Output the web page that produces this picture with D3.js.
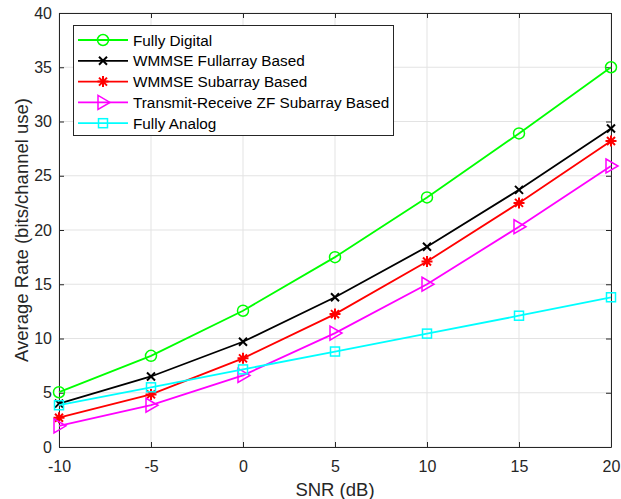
<!DOCTYPE html>
<html>
<head>
  <meta charset="utf-8">
  <title>rate-vs-snr</title>
  <style>
    * { margin: 0; padding: 0; }
    body { background: #fff; }
    svg { font-family: "Liberation Sans", Arial, sans-serif; }
  </style>
</head>
<body>
  <svg id="svg"></svg>
  <script src="https://cdnjs.cloudflare.com/ajax/libs/d3/7.8.5/d3.min.js"></script>
  <script>
    const snr = [-10, -5, 0, 5, 10, 15, 20];
    const fullyDigital = [5.05, 8.4, 12.56, 17.5, 23.0, 28.9, 35.0];
    const wmmseFull = [4.0, 6.5, 9.7, 13.8, 18.45, 23.7, 29.35];
    const wmmseSub = [2.7, 4.85, 8.17, 12.25, 17.1, 22.5, 28.2];
    const zfSub = [1.95, 3.85, 6.6, 10.5, 15.0, 20.3, 25.9];
    const fullyAnalog = [3.85, 5.5, 7.15, 8.8, 10.45, 12.1, 13.8];
    const seriesNames = ['Fully Digital', 'WMMSE Fullarray Based', 'WMMSE Subarray Based', 'Transmit-Receive ZF Subarray Based', 'Fully Analog'];
    const xTicks = [-10, -5, 0, 5, 10, 15, 20];
    const yTicks = [0, 5, 10, 15, 20, 25, 30, 35, 40];

    const W = 621, H = 499;
    const m = { left: 59, right: 10, top: 13, bottom: 52 };
    const txt = '#262626';

    const series = [
      { name: seriesNames[0], values: fullyDigital, color: '#00ff00', marker: 'circle' },
      { name: seriesNames[1], values: wmmseFull, color: '#000000', marker: 'x' },
      { name: seriesNames[2], values: wmmseSub, color: '#ff0000', marker: 'star' },
      { name: seriesNames[3], values: zfSub, color: '#ff00ff', marker: 'tri' },
      { name: seriesNames[4], values: fullyAnalog, color: '#00ffff', marker: 'square' }
    ];

    const svg = d3.select('#svg').attr('width', W).attr('height', H);
    const x = d3.scaleLinear().domain([-10, 20]).range([m.left, W - m.right]);
    const y = d3.scaleLinear().domain([0, 40]).range([H - m.bottom, m.top]);

    // grid
    const grid = svg.append('g').attr('stroke', '#e3e3e3').attr('stroke-width', 1);
    grid.selectAll('.gx').data(xTicks).enter().append('line')
      .attr('x1', d => x(d)).attr('x2', d => x(d)).attr('y1', y(0)).attr('y2', y(40));
    grid.selectAll('.gy').data(yTicks).enter().append('line')
      .attr('x1', x(-10)).attr('x2', x(20)).attr('y1', d => y(d)).attr('y2', d => y(d));

    // axes (MATLAB style, ticks inward on all sides)
    const fmt = d => String(d);
    const xAxis = d3.axisBottom(x).tickValues(xTicks).tickFormat(fmt).tickSizeInner(-5).tickSizeOuter(0).tickPadding(14);
    const yAxis = d3.axisLeft(y).tickValues(yTicks).tickFormat(fmt).tickSizeInner(-5).tickSizeOuter(0).tickPadding(7);
    const gx = svg.append('g').attr('transform', `translate(0,${y(0)})`).call(xAxis);
    const gy = svg.append('g').attr('transform', `translate(${x(-10)},0)`).call(yAxis);
    const gxt = svg.append('g').attr('transform', `translate(0,${y(40)})`)
      .call(d3.axisTop(x).tickValues(xTicks).tickSizeInner(-5).tickSizeOuter(0).tickFormat(''));
    const gyr = svg.append('g').attr('transform', `translate(${x(20)},0)`)
      .call(d3.axisRight(y).tickValues(yTicks).tickSizeInner(-5).tickSizeOuter(0).tickFormat(''));
    [gx, gy, gxt, gyr].forEach(g => {
      g.select('.domain').attr('stroke', txt).attr('stroke-width', 1);
      g.selectAll('.tick line').attr('stroke', txt);
      g.selectAll('text').attr('fill', txt).style('font-size', '16px')
        .style('font-family', '"Liberation Sans", Arial, sans-serif');
    });

    svg.append('text').attr('x', x(5)).attr('y', 496).attr('text-anchor', 'middle')
      .attr('fill', txt).style('font-size', '18.5px').text('SNR (dB)');
    svg.append('text').attr('transform', `translate(28,${y(20)}) rotate(-90)`).attr('text-anchor', 'middle')
      .attr('fill', txt).style('font-size', '18.5px').text('Average Rate (bits/channel use)');

    function drawMarker(g, type, color) {
      const s = 5.5;
      if (type === 'circle') g.append('circle').attr('r', s).attr('fill', 'none').attr('stroke', color).attr('stroke-width', 1.5);
      if (type === 'square') g.append('rect').attr('x', -4.5).attr('y', -4.5).attr('width', 9).attr('height', 9).attr('fill', 'none').attr('stroke', color).attr('stroke-width', 1.5);
      if (type === 'tri') g.append('path').attr('d', `M-5,-7L7,0L-5,7Z`).attr('fill', 'none').attr('stroke', color).attr('stroke-width', 1.5);
      if (type === 'x') g.append('path').attr('d', 'M-4,-4L4,4M-4,4L4,-4').attr('stroke', color).attr('stroke-width', 2);
      if (type === 'star') g.append('path').attr('d', 'M-4,-4L4,4M-4,4L4,-4M0,-5.5V5.5M-5.5,0H5.5').attr('stroke', color).attr('stroke-width', 2);
    }

    const line = d3.line().x((d, i) => x(snr[i])).y(d => y(d));
    series.forEach(s => {
      svg.append('path').datum(s.values).attr('d', line).attr('fill', 'none')
        .attr('stroke', s.color).attr('stroke-width', 1.8);
      s.values.forEach((v, i) => {
        drawMarker(svg.append('g').attr('transform', `translate(${x(snr[i])},${y(v)})`), s.marker, s.color);
      });
    });

    // legend
    const lg = svg.append('g');
    lg.append('rect').attr('x', 73.5).attr('y', 25.5).attr('width', 320).attr('height', 110)
      .attr('fill', '#fff').attr('stroke', txt).attr('stroke-width', 1);
    series.forEach((s, i) => {
      const ly = 40 + i * 20.8;
      lg.append('line').attr('x1', 78).attr('x2', 128).attr('y1', ly).attr('y2', ly)
        .attr('stroke', s.color).attr('stroke-width', 1.8);
      drawMarker(lg.append('g').attr('transform', `translate(103,${ly})`), s.marker, s.color);
      lg.append('text').attr('x', 133).attr('y', ly + 5.5).attr('fill', '#000')
        .style('font-size', '15.3px').text(s.name);
    });
  </script>
</body>
</html>
